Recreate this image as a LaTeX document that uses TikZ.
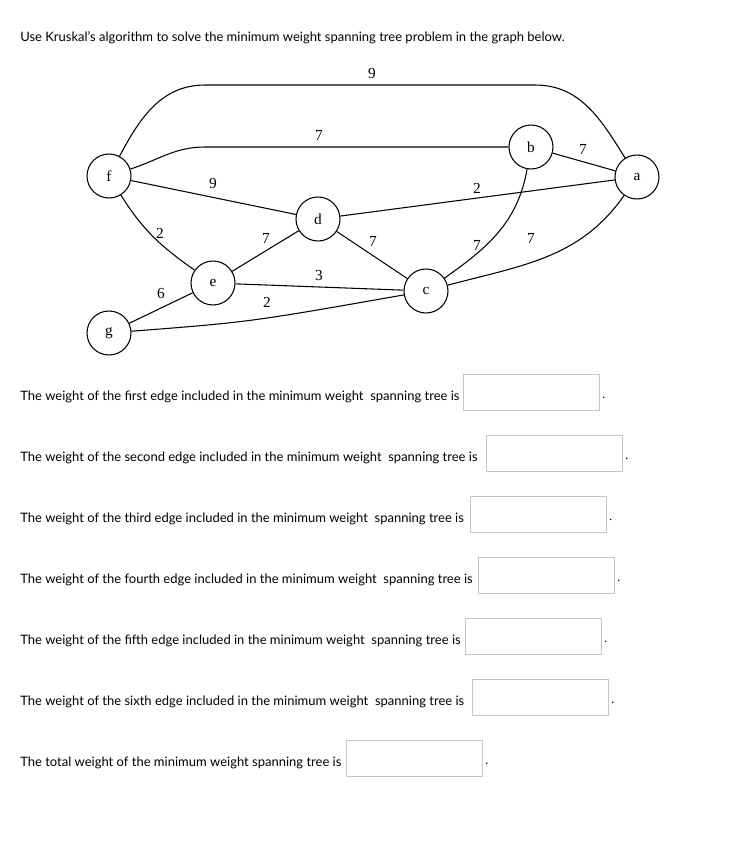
\documentclass[tikz,border=0pt]{standalone}
\usepackage{fontspec}
\setmainfont{Lato}
\newfontfamily\grf{Liberation Serif}
\begin{document}
\begin{tikzpicture}[x=0.75pt,y=-0.75pt,
 vtx/.style={circle,draw,line width=0.8pt,minimum size=33pt,inner sep=0pt,font=\grf\fontsize{11.5}{13}\selectfont},
 wl/.style={font=\grf\fontsize{11.5}{13}\selectfont},
 edge/.style={line width=0.8pt},
 q/.style={anchor=west,inner sep=0pt,font=\fontsize{9.75}{11}\selectfont},
 ans/.style={draw=gray!45,line width=0.6pt,minimum width=102pt,minimum height=27pt,inner sep=0pt,anchor=west},
 dot/.style={inner sep=0pt,font=\fontsize{9}{10}\selectfont}]
\useasboundingbox (0,0) rectangle (742,858);
\node[q] (title) at (20,38) {Use Kruskal's algorithm to solve the minimum weight spanning tree problem in the graph below.};
\node[vtx] (f) at (109,176) {f};
\node[vtx] (b) at (531,147) {b};
\node[vtx] (a) at (637,177) {a};
\node[vtx] (d) at (318,219) {d};
\node[vtx] (e) at (213,283) {e};
\node[vtx] (c) at (426,291) {c};
\node[vtx] (g) at (109,333) {g};
\coordinate (t1) at (205,85); \coordinate (t2) at (535,85);
\coordinate (m1) at (205,147);
\coordinate (gc) at (250,322);
\draw[edge] (f) to[out=62,in=180] (t1) -- (t2) to[out=0,in=122] (a);
\draw[edge] (f) to[out=18,in=180] (m1) -- (b);
\draw[edge] (f) -- (d);
\draw[edge] (d) -- (a);
\draw[edge] (f) to[out=-58,in=145] (e);
\draw[edge] (e) -- (d);
\draw[edge] (d) -- (c);
\draw[edge] (e) -- (c);
\draw[edge] (g) -- (e);
\draw[edge] (g) .. controls (gc) .. (c);
\draw[edge] (c) to[out=35,in=-100] (b);
\draw[edge] (c) to[out=15,in=-125] (a);
\draw[edge] (b) -- (a);
\node[wl] (w1) at (372,73) {9};
\node[wl] (w2) at (319,135) {7};
\node[wl] (w3) at (213,183) {9};
\node[wl] (w4) at (477,188) {2};
\node[wl] (w5) at (160,233) {2};
\node[wl] (w6) at (266,238) {7};
\node[wl] (w7) at (373,241) {7};
\node[wl] (w8) at (319,275) {3};
\node[wl] (w9) at (161,293) {6};
\node[wl] (w10) at (267,302) {2};
\node[wl] (w11) at (477,245) {7};
\node[wl] (w12) at (531,238) {7};
\node[wl] (w13) at (583,149) {7};
\foreach \n/\y/\bx/\t in {1/397/463/first, 2/458/486/second, 3/519/470/third, 4/580/478/fourth, 5/641/465/fifth, 6/702/472/sixth}{
 \node[q] (q\n) at (20,\y) {The weight of the \t\ edge included in the minimum weight\ \ spanning tree is};
 \node[ans] (b\n) at (\bx,\y-5) {};
 \node[dot] (p\n) at ([xshift=3pt,yshift=-4pt]b\n.east) {.};
}
\node[q] (q7) at (20,763) {The total weight of the minimum weight spanning tree is};
\node[ans] (b7) at (346,758) {};
\node[dot] (p7) at ([xshift=3pt,yshift=-4pt]b7.east) {.};
\end{tikzpicture}
\end{document}
